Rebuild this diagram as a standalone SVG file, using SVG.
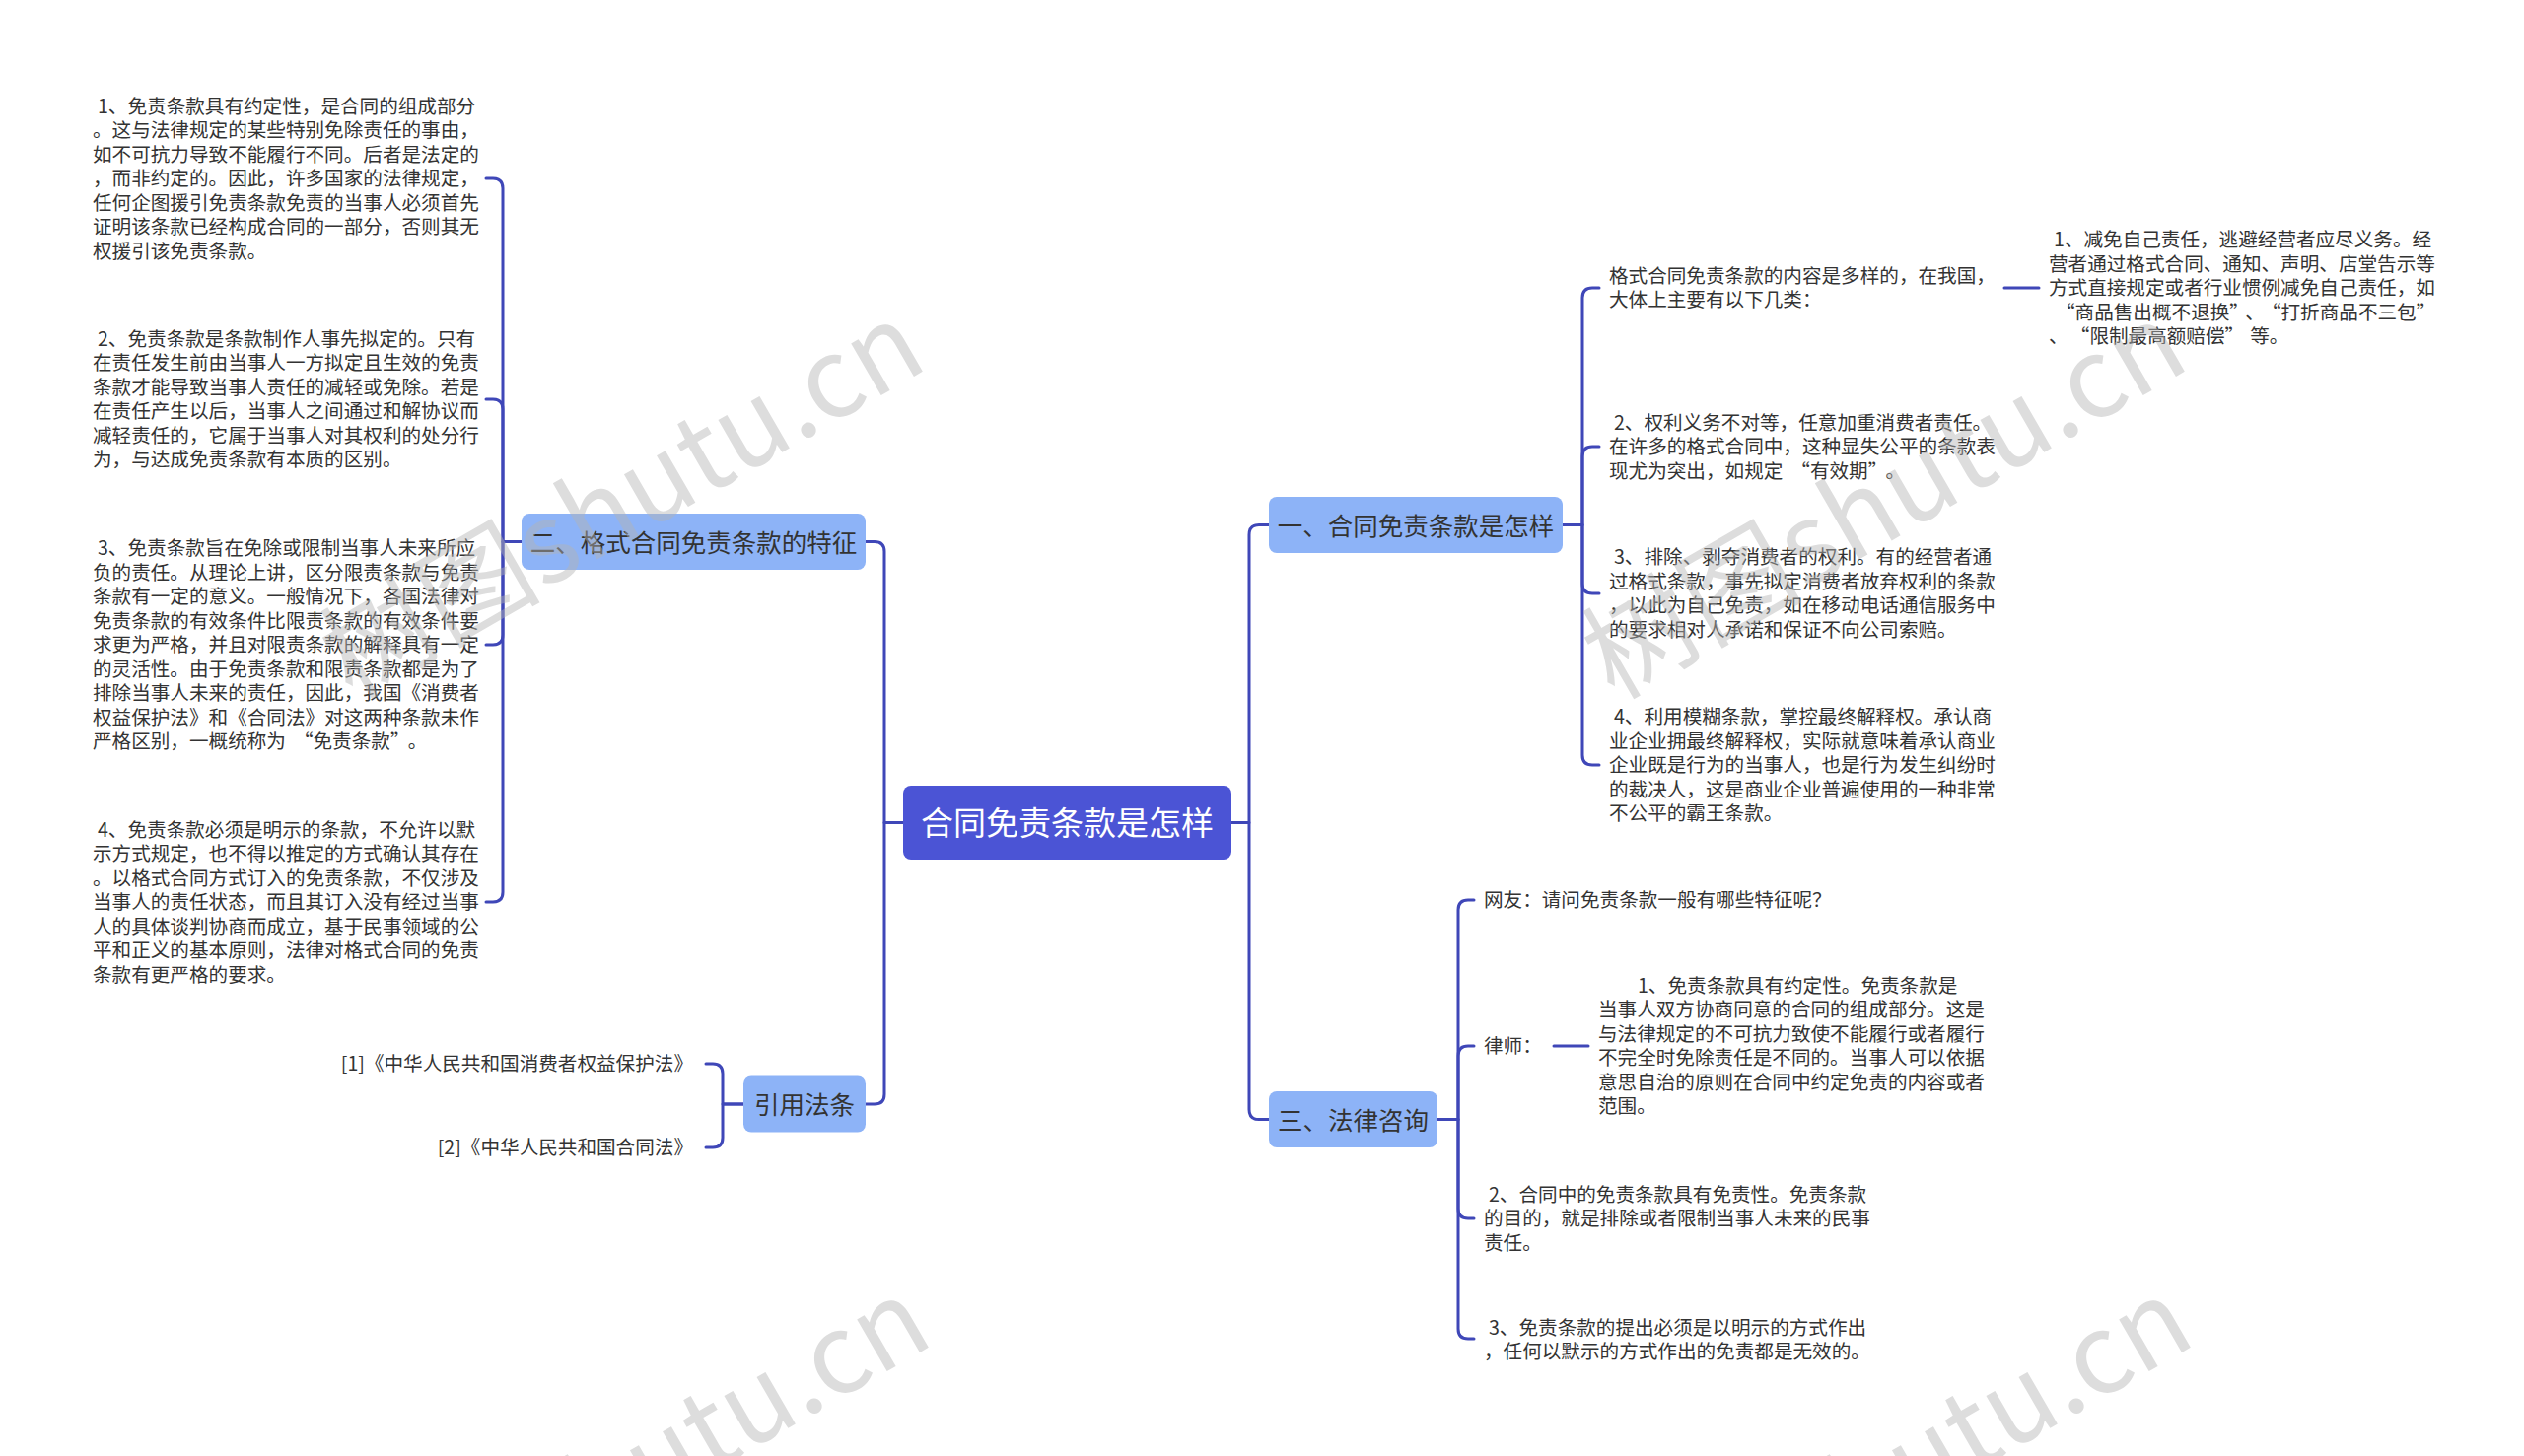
<svg xmlns="http://www.w3.org/2000/svg" width="2560" height="1477" viewBox="0 0 2560 1477">
<style>
.conn{fill:none;stroke:#3F47B8;stroke-width:3;stroke-linecap:round;stroke-linejoin:round}
text{font-family:"Noto Sans CJK SC","Noto Sans",sans-serif}
.leaf{font-size:19.6px;fill:#333}
.branch rect{fill:#8DB3F7}
.branch text{font-size:25.5px;fill:#333;text-anchor:middle}
.root rect{fill:#4B54D5}
.root text{font-size:33px;fill:#fff;text-anchor:middle}
.wm{font-size:112px;fill:#b4b4b4;opacity:.45;text-anchor:end}
</style>
<rect width="2560" height="1477" fill="#fff"/>

<g id="connectors">
<path class="conn" d="M916 834.5H897V559.5Q897 549.5 887 549.5H878"/>
<path class="conn" d="M916 834.5H897V1110Q897 1120 887 1120H878"/>
<path class="conn" d="M1249 834.5H1267V542.5Q1267 532.5 1277 532.5H1287"/>
<path class="conn" d="M1249 834.5H1267V1125.5Q1267 1135.5 1277 1135.5H1287"/>
<path class="conn" d="M529 549.5H510V191Q510 181 500 181H493"/>
<path class="conn" d="M529 549.5H510V415Q510 405 500 405H493"/>
<path class="conn" d="M529 549.5H510V644Q510 654 500 654H493"/>
<path class="conn" d="M529 549.5H510V905Q510 915 500 915H493"/>
<path class="conn" d="M754 1120H733V1089Q733 1079 723 1079H716"/>
<path class="conn" d="M754 1120H733V1154Q733 1164 723 1164H716"/>
<path class="conn" d="M1585 532.5H1605V302Q1605 292 1615 292H1622"/>
<path class="conn" d="M1585 532.5H1605V463Q1605 453 1615 453H1622"/>
<path class="conn" d="M1585 532.5H1605V592Q1605 602 1615 602H1622"/>
<path class="conn" d="M1585 532.5H1605V766Q1605 776 1615 776H1622"/>
<path class="conn" d="M2033 292H2068"/>
<path class="conn" d="M1458 1135.5H1479V923Q1479 913 1489 913H1495"/>
<path class="conn" d="M1458 1135.5H1479V1071Q1479 1061 1489 1061H1495"/>
<path class="conn" d="M1458 1135.5H1479V1226Q1479 1236 1489 1236H1495"/>
<path class="conn" d="M1458 1135.5H1479V1348Q1479 1358 1489 1358H1495"/>
<path class="conn" d="M1576 1061H1611"/>
</g>

<g id="root" class="root">
<rect x="916" y="797" width="333" height="75" rx="8"/>
<text x="1082.5" y="847">合同免责条款是怎样</text>
</g>

<g id="n-er" class="branch">
<rect x="529" y="521" width="349" height="57" rx="8"/>
<text x="703.5" y="559.5">二、格式合同免责条款的特征</text>
</g>

<g id="n-yinyong" class="branch">
<rect x="754" y="1091.5" width="124" height="57" rx="8"/>
<text x="816" y="1130">引用法条</text>
</g>

<g id="n-yi" class="branch">
<rect x="1287" y="504" width="298" height="57" rx="8"/>
<text x="1436" y="542.5">一、合同免责条款是怎样</text>
</g>

<g id="n-san" class="branch">
<rect x="1287" y="1107" width="171" height="57" rx="8"/>
<text x="1372.5" y="1145.5">三、法律咨询</text>
</g>

<g id="l1">
<text class="leaf" y="114.5"><tspan x="99">1、免责条款具有约定性，是合同的组成部分</tspan><tspan x="94" dy="24.5">。这与法律规定的某些特别免除责任的事由，</tspan><tspan x="94" dy="24.5">如不可抗力导致不能履行不同。后者是法定的</tspan><tspan x="94" dy="24.5">，而非约定的。因此，许多国家的法律规定，</tspan><tspan x="94" dy="24.5">任何企图援引免责条款免责的当事人必须首先</tspan><tspan x="94" dy="24.5">证明该条款已经构成合同的一部分，否则其无</tspan><tspan x="94" dy="24.5">权援引该免责条款。</tspan></text>
</g>
<g id="l2">
<text class="leaf" y="350.75"><tspan x="99">2、免责条款是条款制作人事先拟定的。只有</tspan><tspan x="94" dy="24.5">在责任发生前由当事人一方拟定且生效的免责</tspan><tspan x="94" dy="24.5">条款才能导致当事人责任的减轻或免除。若是</tspan><tspan x="94" dy="24.5">在责任产生以后，当事人之间通过和解协议而</tspan><tspan x="94" dy="24.5">减轻责任的，它属于当事人对其权利的处分行</tspan><tspan x="94" dy="24.5">为，与达成免责条款有本质的区别。</tspan></text>
</g>
<g id="l3">
<text class="leaf" y="563"><tspan x="99">3、免责条款旨在免除或限制当事人未来所应</tspan><tspan x="94" dy="24.5">负的责任。从理论上讲，区分限责条款与免责</tspan><tspan x="94" dy="24.5">条款有一定的意义。一般情况下，各国法律对</tspan><tspan x="94" dy="24.5">免责条款的有效条件比限责条款的有效条件要</tspan><tspan x="94" dy="24.5">求更为严格，并且对限责条款的解释具有一定</tspan><tspan x="94" dy="24.5">的灵活性。由于免责条款和限责条款都是为了</tspan><tspan x="94" dy="24.5">排除当事人未来的责任，因此，我国《消费者</tspan><tspan x="94" dy="24.5">权益保护法》和《合同法》对这两种条款未作</tspan><tspan x="94" dy="24.5">严格区别，一概统称为<tspan dx="8">“</tspan>免责条款”<tspan dx="8">。</tspan></tspan></text>
</g>
<g id="l4">
<text class="leaf" y="848.5"><tspan x="99">4、免责条款必须是明示的条款，不允许以默</tspan><tspan x="94" dy="24.5">示方式规定，也不得以推定的方式确认其存在</tspan><tspan x="94" dy="24.5">。以格式合同方式订入的免责条款，不仅涉及</tspan><tspan x="94" dy="24.5">当事人的责任状态，而且其订入没有经过当事</tspan><tspan x="94" dy="24.5">人的具体谈判协商而成立，基于民事领域的公</tspan><tspan x="94" dy="24.5">平和正义的基本原则，法律对格式合同的免责</tspan><tspan x="94" dy="24.5">条款有更严格的要求。</tspan></text>
</g>

<g id="law1"><text class="leaf" x="703" y="1086" text-anchor="end">[1]《中华人民共和国消费者权益保护法》</text></g>
<g id="law2"><text class="leaf" x="703" y="1171" text-anchor="end">[2]《中华人民共和国合同法》</text></g>

<g id="r-a">
<text class="leaf" y="286.75"><tspan x="1632">格式合同免责条款的内容是多样的，在我国，</tspan><tspan x="1632" dy="24.5">大体上主要有以下几类：</tspan></text>
</g>
<g id="r-a1">
<text class="leaf" y="250"><tspan x="2083">1、减免自己责任，逃避经营者应尽义务。经</tspan><tspan x="2078" dy="24.5">营者通过格式合同、通知、声明、店堂告示等</tspan><tspan x="2078" dy="24.5">方式直接规定或者行业惯例减免自己责任，如</tspan><tspan x="2085" dy="24.5">“商品售出概不退换”<tspan dx="6">、</tspan><tspan dx="7">“</tspan>打折商品不三包”</tspan><tspan x="2078" dy="24.5">、<tspan dx="12">“</tspan>限制最高额赔偿”<tspan dx="6">等。</tspan></tspan></text>
</g>
<g id="r-b">
<text class="leaf" y="435.5"><tspan x="1637">2、权利义务不对等，任意加重消费者责任。</tspan><tspan x="1632" dy="24.5">在许多的格式合同中，这种显失公平的条款表</tspan><tspan x="1632" dy="24.5">现尤为突出，如规定<tspan dx="8">“</tspan>有效期”<tspan dx="8">。</tspan></tspan></text>
</g>
<g id="r-c">
<text class="leaf" y="572"><tspan x="1637">3、排除、剥夺消费者的权利。有的经营者通</tspan><tspan x="1632" dy="24.5">过格式条款，事先拟定消费者放弃权利的条款</tspan><tspan x="1632" dy="24.5">，以此为自己免责，如在移动电话通信服务中</tspan><tspan x="1632" dy="24.5">的要求相对人承诺和保证不向公司索赔。</tspan></text>
</g>
<g id="r-d">
<text class="leaf" y="734"><tspan x="1637">4、利用模糊条款，掌控最终解释权。承认商</tspan><tspan x="1632" dy="24.5">业企业拥最终解释权，实际就意味着承认商业</tspan><tspan x="1632" dy="24.5">企业既是行为的当事人，也是行为发生纠纷时</tspan><tspan x="1632" dy="24.5">的裁决人，这是商业企业普遍使用的一种非常</tspan><tspan x="1632" dy="24.5">不公平的霸王条款。</tspan></text>
</g>

<g id="q-netizen"><text class="leaf" x="1505" y="920">网友：请问免责条款一般有哪些特征呢？</text></g>
<g id="q-lawyer"><text class="leaf" x="1505" y="1068">律师：</text></g>
<g id="q-lawyer-ans">
<text class="leaf" y="1006.75"><tspan x="1661">1、免责条款具有约定性。免责条款是</tspan><tspan x="1621" dy="24.5">当事人双方协商同意的合同的组成部分。这是</tspan><tspan x="1621" dy="24.5">与法律规定的不可抗力致使不能履行或者履行</tspan><tspan x="1621" dy="24.5">不完全时免除责任是不同的。当事人可以依据</tspan><tspan x="1621" dy="24.5">意思自治的原则在合同中约定免责的内容或者</tspan><tspan x="1621" dy="24.5">范围。</tspan></text>
</g>
<g id="q-2">
<text class="leaf" y="1218.5"><tspan x="1510">2、合同中的免责条款具有免责性。免责条款</tspan><tspan x="1505" dy="24.5">的目的，就是排除或者限制当事人未来的民事</tspan><tspan x="1505" dy="24.5">责任。</tspan></text>
</g>
<g id="q-3">
<text class="leaf" y="1353.75"><tspan x="1510">3、免责条款的提出必须是以明示的方式作出</tspan><tspan x="1505" dy="24.5">，任何以默示的方式作出的免责都是无效的。</tspan></text>
</g>

<g id="watermarks">
<text class="wm" transform="translate(944 372) rotate(-30)">树图shutu.cn</text>
<text class="wm" transform="translate(2224 372) rotate(-30)">树图shutu.cn</text>
<text class="wm" transform="translate(950 1362) rotate(-30)">树图shutu.cn</text>
<text class="wm" transform="translate(2230 1362) rotate(-30)">树图shutu.cn</text>
</g>
</svg>
